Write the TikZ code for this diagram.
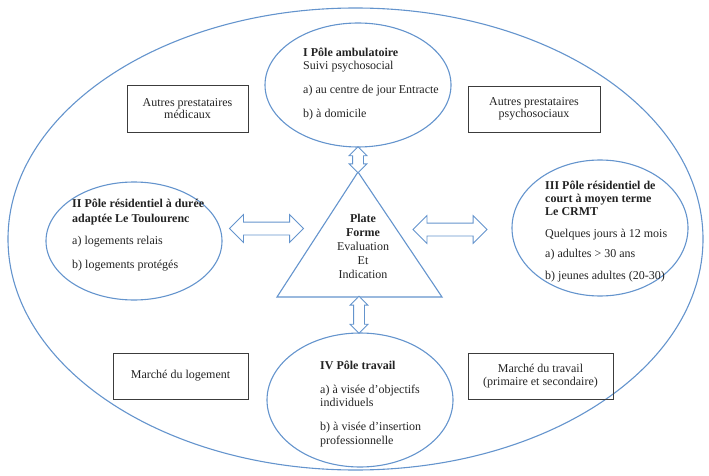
\documentclass[tikz,border=0pt]{standalone}
\usepackage{fontspec}
\setmainfont{Liberation Serif}
\usetikzlibrary{shapes.geometric,shapes.arrows,calc}
\definecolor{lineblue}{RGB}{100,148,205}
\definecolor{txt}{RGB}{35,35,35}
\definecolor{boxline}{RGB}{60,60,60}
\newcommand{\firststrut}{\rule{0pt}{9pt}}
\begin{document}
\begin{tikzpicture}[x=1pt,y=1pt,
  pole/.style={ellipse, draw=lineblue, line width=1.1pt, inner sep=0},
  partner/.style={rectangle, draw=boxline, line width=0.9pt, inner sep=0, align=center, text=txt, font=\fontsize{12}{12.5}\selectfont},
  blocktext/.style={inner sep=0, align=left, anchor=north west, text=txt},
  link/.style={double arrow, draw=lineblue, line width=0.8pt, fill=white, inner xsep=0, inner ysep=6pt, double arrow head extend=7.5pt, minimum width=27pt},
  vlink/.style={double arrow, draw=lineblue, line width=0.8pt, fill=white, inner xsep=0, inner ysep=5pt, double arrow head extend=3.5pt, minimum width=17pt, rotate=90}
]
\useasboundingbox (0,0) rectangle (709,-476);

% outer ellipse
\node[pole, minimum width=695pt, minimum height=462pt] (outer) at (355.5,-239) {};

% poles
\node[pole, minimum width=186pt, minimum height=124pt] (amb) at (358,-85) {};
\node[pole, minimum width=176pt, minimum height=118pt] (res) at (134,-241) {};
\node[pole, minimum width=176pt, minimum height=136pt] (crmt) at (600,-228) {};
\node[pole, minimum width=186pt, minimum height=134pt] (trav) at (360,-400) {};

% triangle
\coordinate (apex) at (358,-172);
\coordinate (bl) at (277,-297);
\coordinate (br) at (442,-297);
\coordinate (basemid) at (358,-297);
\draw[lineblue, line width=1.1pt] (apex) -- (bl) -- (br) -- cycle;

% texts
\node[blocktext, font=\fontsize{12}{13}\selectfont] (ambtxt) at (303,-47)
  {\firststrut\textbf{I Pôle ambulatoire}\\ Suivi psychosocial\\[11pt] a) au centre de jour Entracte\\[11pt] b) à domicile};
\node[blocktext, font=\fontsize{12}{15}\selectfont] (restxt) at (72,-198)
  {\firststrut\textbf{II Pôle résidentiel à durée}\\ \textbf{adaptée Le Toulourenc}\\[7pt] a) logements relais\\[9pt] b) logements protégés};
\node[blocktext, font=\fontsize{12}{13.3}\selectfont] (crmttxt) at (545,-180)
  {\firststrut\textbf{III Pôle résidentiel de}\\ \textbf{court à moyen terme}\\ \textbf{Le CRMT}\\[8.4pt] Quelques jours à 12 mois\\[6.7pt] a) adultes > 30 ans\\[8.4pt] b) jeunes adultes (20-30)};
\node[inner sep=0, align=center, anchor=north, text=txt, font=\fontsize{12}{14}\selectfont] (pftxt) at (363,-213)
  {\firststrut\textbf{Plate}\\ \textbf{Forme}\\ Evaluation\\ Et\\ Indication};
\node[blocktext, font=\fontsize{12}{13.5}\selectfont] (travtxt) at (320,-360)
  {\firststrut\textbf{IV Pôle travail}\\[10.5pt] a) à visée d’objectifs\\ individuels\\[10.5pt] b) à visée d’insertion\\ professionnelle};

% partner boxes
\node[partner, minimum width=121pt, minimum height=47pt] (med) at (187.5,-108.5) {Autres prestataires\\ médicaux};
\node[partner, minimum width=132pt, minimum height=46pt] (psy) at (534,-109) {Autres prestataires\\ psychosociaux};
\node[partner, minimum width=135pt, minimum height=46pt] (log) at (180.5,-376) {Marché du logement};
\node[partner, minimum width=145pt, minimum height=46pt] (mtr) at (540.5,-376) {Marché du travail\\ (primaire et secondaire)};

% double arrows
\node[vlink, minimum height=26pt] (a1) at ($(amb.south)!0.5!(apex)$) {};
\node[vlink, minimum height=37pt] (a2) at ($(basemid)!0.5!(trav.north)$) {};
\node[link, minimum height=74pt] (a3) at (266.5,-228.5) {};
\node[link, minimum height=74pt] (a4) at (450,-229.5) {};
\end{tikzpicture}
\end{document}
